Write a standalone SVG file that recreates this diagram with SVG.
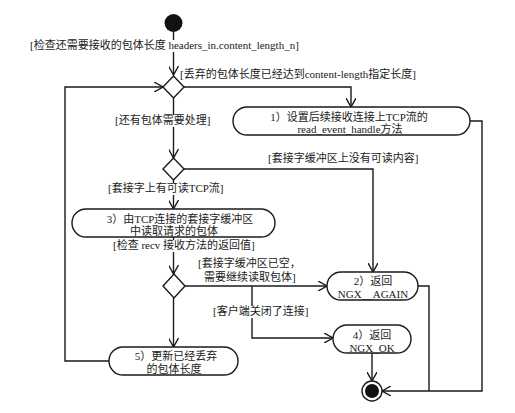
<svg xmlns="http://www.w3.org/2000/svg" width="515" height="413" viewBox="0 0 515 413">
<defs>
<style>
.ln{fill:none;stroke:#1a1a1a;stroke-width:1.4}
.nd{fill:#fff;stroke:#1a1a1a;stroke-width:1.4}
.t{font-family:"Liberation Serif","Noto Sans CJK SC",serif;font-size:11px;fill:#1a1a1a}
.bg{fill:#fff}
.c{text-anchor:middle}
</style>
<marker id="ar" viewBox="0 0 10 10" refX="9" refY="5" markerWidth="10" markerHeight="10" markerUnits="userSpaceOnUse" orient="auto">
<path d="M0,0 L9,5 L0,10" fill="none" stroke="#1a1a1a" stroke-width="1.4"/>
</marker>
</defs>
<rect width="515" height="413" fill="#fff"/>
<g id="connectors">
<path class="ln" d="M173.5,32 V75" marker-end="url(#ar)"/>
<path class="ln" d="M184,87 H351 V107" marker-end="url(#ar)"/>
<path class="ln" d="M173.5,98 V158" marker-end="url(#ar)"/>
<path class="ln" d="M184,169 H373 V272" marker-end="url(#ar)"/>
<path class="ln" d="M173.5,180 V209" marker-end="url(#ar)"/>
<path class="ln" d="M173.5,237 V274" marker-end="url(#ar)"/>
<path class="ln" d="M185,286 H327" marker-end="url(#ar)"/>
<path class="ln" d="M252,286 V338 H333" marker-end="url(#ar)"/>
<path class="ln" d="M173.5,298 V347" marker-end="url(#ar)"/>
<path class="ln" d="M109,361 H65 V87 H163" marker-end="url(#ar)"/>
<path class="ln" d="M470,121 H482 V391 H382" marker-end="url(#ar)"/>
<path class="ln" d="M418,286 H429 V391"/>
<path class="ln" d="M372,353 V381" marker-end="url(#ar)"/>
</g>
<g id="labels">
<rect class="bg" x="28" y="40" width="280" height="12"/>
<rect class="bg" x="113" y="115" width="102" height="12"/>
<rect class="bg" x="106" y="183" width="122" height="12"/>
<rect class="bg" x="111" y="240" width="146" height="12"/>
<rect class="bg" x="211" y="306" width="101" height="12"/>
<text class="t" x="30" y="49">[检查还需要接收的包体长度 headers_in.content_length_n]</text>
<text class="t" x="180" y="78">[丢弃的包体长度已经达到content-length指定长度]</text>
<text class="t" x="115" y="124">[还有包体需要处理]</text>
<text class="t" x="268" y="162">[套接字缓冲区上没有可读内容]</text>
<text class="t" x="108" y="192">[套接字上有可读TCP流]</text>
<text class="t" x="113" y="249">[检查 recv 接收方法的返回值]</text>
<text class="t" x="198" y="267">[套接字缓冲区已空，</text>
<text class="t" x="204" y="281">需要继续读取包体]</text>
<text class="t" x="213" y="315">[客户端关闭了连接]</text>
</g>
<g id="start"><circle cx="173.5" cy="23" r="9" fill="#111"/></g>
<g id="decision1"><path class="nd" d="M173.5,76 L184,87 L173.5,98 L163,87 Z"/></g>
<g id="decision2"><path class="nd" d="M173.5,158 L184,169 L173.5,180 L163,169 Z"/></g>
<g id="decision3"><path class="nd" d="M174,274 L185,286 L174,298 L163,286 Z"/></g>
<g id="node1">
<rect class="nd" x="233" y="107" width="237" height="28" rx="14"/>
<text class="t c" x="349" y="121">1）设置后续接收连接上TCP流的</text>
<text class="t c" x="350" y="133">read_event_handle方法</text>
</g>
<g id="node3">
<rect class="nd" x="72" y="209" width="203" height="28" rx="14"/>
<text class="t c" x="180" y="223">3）由TCP连接的套接字缓冲区</text>
<text class="t c" x="174" y="235">中读取请求的包体</text>
</g>
<g id="node2">
<rect class="nd" x="327" y="272" width="91" height="28" rx="14"/>
<text class="t c" x="373" y="285">2）返回</text>
<text class="t c" x="373" y="298">NGX＿AGAIN</text>
</g>
<g id="node4">
<rect class="nd" x="333" y="325" width="78" height="28" rx="14"/>
<text class="t c" x="372" y="339">4）返回</text>
<text class="t c" x="372" y="352">NGX_OK</text>
</g>
<g id="node5">
<rect class="nd" x="109" y="347" width="129" height="28" rx="14"/>
<text class="t c" x="176" y="360">5）更新已经丢弃</text>
<text class="t c" x="174" y="373">的包体长度</text>
</g>
<g id="end">
<circle cx="372" cy="391" r="10" fill="#fff" stroke="#1a1a1a" stroke-width="1.4"/>
<circle cx="372" cy="391" r="7" fill="#111"/>
</g>
</svg>
